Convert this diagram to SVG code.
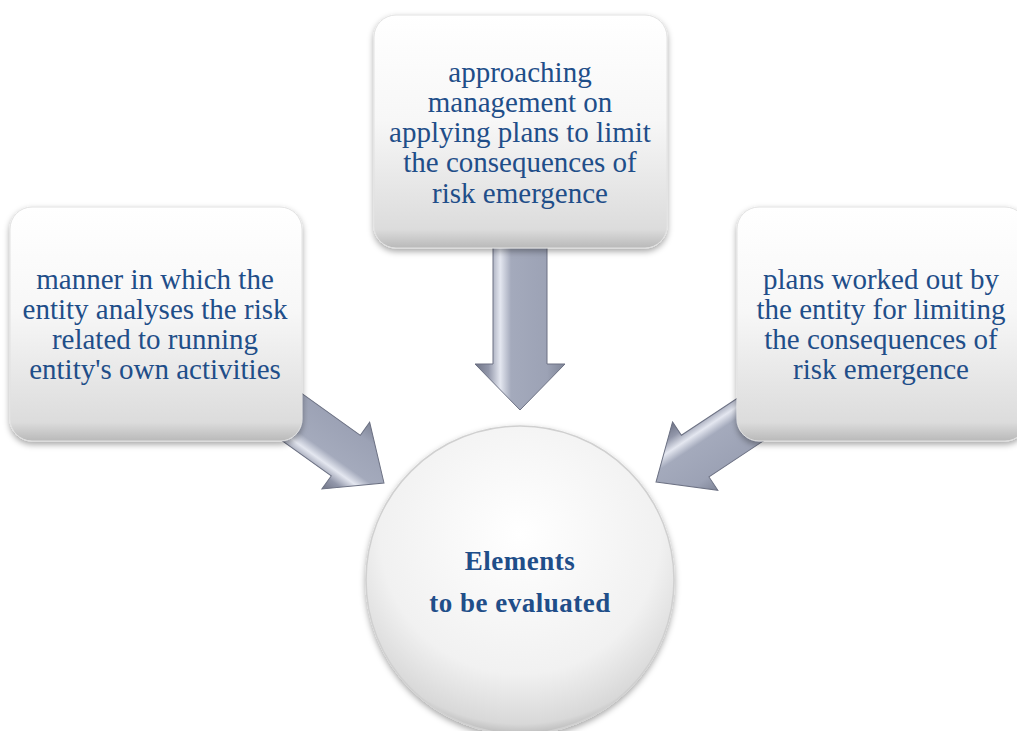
<svg xmlns="http://www.w3.org/2000/svg" width="1017" height="731" viewBox="0 0 1017 731">
<defs>
<linearGradient id="boxg" x1="0" y1="0" x2="0" y2="1">
<stop offset="0" stop-color="#ffffff"/>
<stop offset="0.45" stop-color="#f7f7f7"/>
<stop offset="0.92" stop-color="#dcdcdc"/>
<stop offset="1" stop-color="#b9b9b9"/>
</linearGradient>
<radialGradient id="circg" cx="0.5" cy="0.35" r="0.65">
<stop offset="0" stop-color="#ffffff"/>
<stop offset="0.7" stop-color="#f1f1f1"/>
<stop offset="0.95" stop-color="#d8d8d8"/>
<stop offset="1" stop-color="#bdbdbd"/>
</radialGradient>
<linearGradient id="arrg" x1="0" y1="0" x2="0" y2="1">
<stop offset="0" stop-color="#7f8597"/>
<stop offset="0.2" stop-color="#9ca2b5"/>
<stop offset="0.6" stop-color="#a4aabc"/>
<stop offset="0.72" stop-color="#e4e7f0"/>
<stop offset="0.85" stop-color="#9297aa"/>
<stop offset="1" stop-color="#6f7486"/>
</linearGradient>
<filter id="sh" x="-10%" y="-10%" width="120%" height="120%">
<feDropShadow dx="0" dy="3" stdDeviation="3" flood-color="#000" flood-opacity="0.35"/>
</filter>
</defs>
<style>
.box{fill:url(#boxg);stroke:#e2e2e2;stroke-width:1;filter:url(#sh)}
.arr{fill:url(#arrg);stroke:#6c7183;stroke-width:1}
.t{font-family:"Liberation Serif","Times New Roman",serif;font-size:29px;fill:#1f4e89;text-anchor:middle}
.b{font-family:"Liberation Serif","Times New Roman",serif;font-size:27px;font-weight:bold;fill:#1f4e89;text-anchor:middle;letter-spacing:0.5px}
</style>
<g id="connectors">
<polygon class="arr" transform="translate(520,410) rotate(90)" points="0,0 -46,-45 -46,-27 -165,-27 -165,27 -46,27 -46,45"/>
<polygon class="arr" transform="translate(384,483) rotate(35.6)" points="0,0 -47,-41 -47,-25 -150,-25 -150,25 -47,25 -47,41"/>
<polygon class="arr" transform="translate(656,482) rotate(146.5)" points="0,0 -47,-41 -47,-25 -150,-25 -150,25 -47,25 -47,41"/>
</g>
<g id="node-top">
<rect class="box" x="374" y="15" width="293" height="233" rx="22"/>
<text class="t" x="520" y="82">approaching</text>
<text class="t" x="520" y="112">management on</text>
<text class="t" x="520" y="142">applying plans to limit</text>
<text class="t" x="520" y="172">the consequences of</text>
<text class="t" x="520" y="203">risk emergence</text>
</g>
<g id="node-left">
<rect class="box" x="10" y="207" width="292" height="234" rx="22"/>
<text class="t" x="155" y="289">manner in which the</text>
<text class="t" x="155" y="319">entity analyses the risk</text>
<text class="t" x="155" y="349">related to running</text>
<text class="t" x="155" y="379">entity's own activities</text>
</g>
<g id="node-right">
<rect class="box" x="737" y="207" width="290" height="234" rx="22"/>
<text class="t" x="881" y="289">plans worked out by</text>
<text class="t" x="881" y="319">the entity for limiting</text>
<text class="t" x="881" y="349">the consequences of</text>
<text class="t" x="881" y="379">risk emergence</text>
</g>
<g id="node-center">
<circle cx="520" cy="580" r="154" fill="url(#circg)" stroke="#d0d0d0" stroke-width="1.5" filter="url(#sh)"/>
<text class="b" x="520" y="570">Elements</text>
<text class="b" x="520" y="612">to be evaluated</text>
</g>
</svg>
